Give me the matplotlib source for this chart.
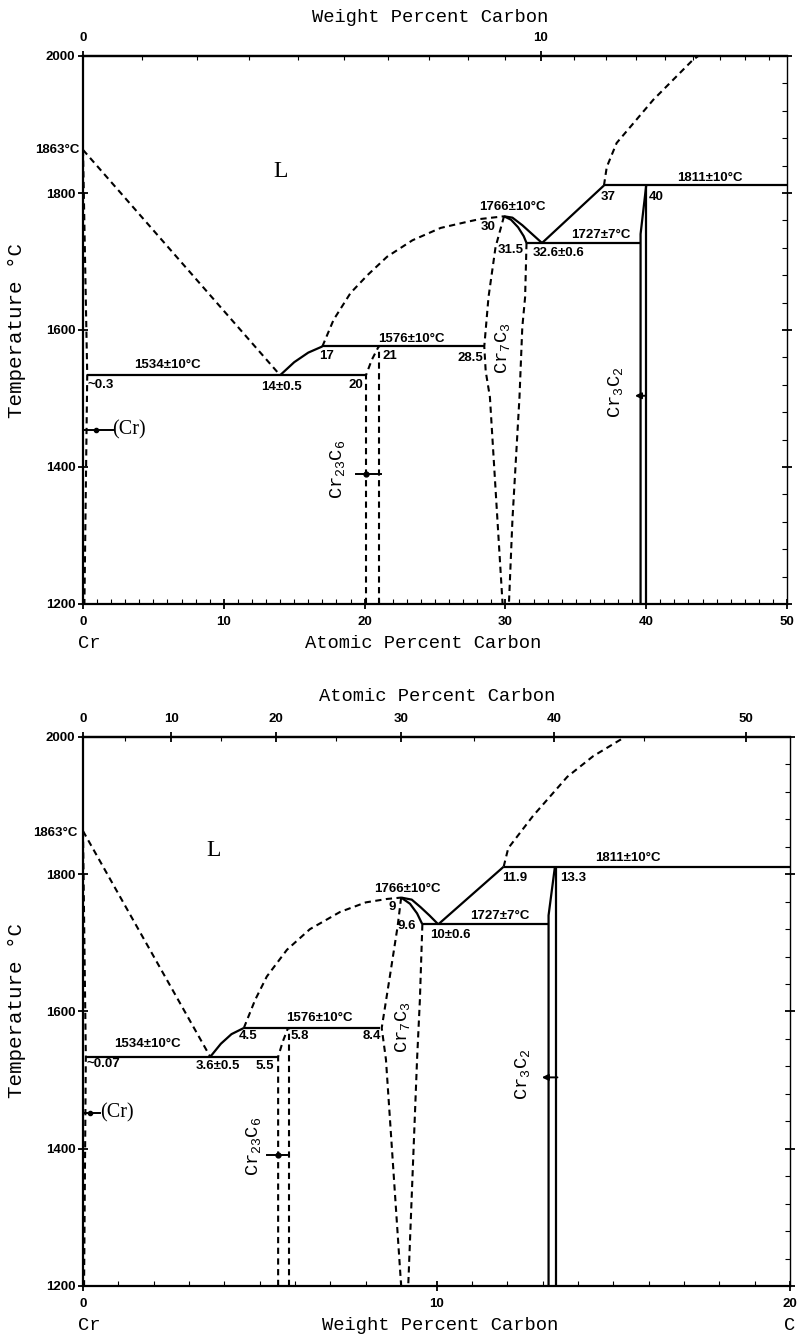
import numpy as np
import matplotlib
matplotlib.use("Agg")
import matplotlib.pyplot as plt
from matplotlib.ticker import MultipleLocator, FixedLocator

plt.rcParams["mathtext.default"] = "regular"
plt.rcParams["lines.scale_dashes"] = False

W, H = 799, 1337

# ================= DATA: top panel (x = atomic % C) =================
top_liq_left_x = [0, 14]
top_liq_left_t = [1863, 1534]
top_liq_23_x = [14, 15, 16, 17]
top_liq_23_t = [1534, 1553, 1567, 1576]
top_liq_mid_x = [17, 17.8, 19.0, 20.2, 21.6, 23.4, 25.4, 27.3, 28.2, 29.9]
top_liq_mid_t = [1576, 1615, 1654, 1680, 1707, 1731, 1749, 1758, 1762, 1766]
top_liq_73_x = [29.9, 30.5, 31.2, 31.9, 32.6]
top_liq_73_t = [1766, 1764, 1753, 1740, 1727]
top_sol_73_x = [29.9, 30.4, 30.9, 31.3, 31.5]
top_sol_73_t = [1766, 1761, 1750, 1737, 1727]
top_liq_32_x = [32.6, 37]
top_liq_32_t = [1727, 1811]
top_liq_hi_x = [37, 37.2, 37.9, 39.1, 40.5, 41.9, 43.3, 43.7]
top_liq_hi_t = [1811, 1838, 1873, 1902, 1936, 1965, 1994, 2000]
top_cr_sol_x = [0, 0.3, 0.1]
top_cr_sol_t = [1863, 1534, 1200]
top_c23_left_x = [20.1, 20.1, 20.5, 21.0]
top_c23_left_t = [1200, 1534, 1556, 1576]
top_c23_right_x = [21.0, 21.0]
top_c23_right_t = [1200, 1576]
top_c73_left_x = [29.9, 29.3, 28.8, 28.5, 28.6, 28.9, 29.8]
top_c73_left_t = [1766, 1721, 1648, 1576, 1540, 1502, 1200]
top_c73_right_x = [31.5, 31.4, 31.2, 31.0, 30.5, 30.25]
top_c73_right_t = [1727, 1648, 1604, 1502, 1323, 1200]
top_c32_left_x = [39.6, 39.6, 40.0]
top_c32_left_t = [1200, 1740, 1811]
top_c32_right_x = [40.0, 40.0]
top_c32_right_t = [1200, 1811]
top_iso_t = [1534, 1576, 1727, 1811]
top_iso_x0 = [0.3, 17, 31.5, 37]
top_iso_x1 = [20.1, 28.5, 39.6, 50]

# ================= DATA: bottom panel (x = weight % C) =================
bot_liq_left_x = [0, 3.6]
bot_liq_left_t = [1863, 1534]
bot_liq_23_x = [3.6, 3.9, 4.2, 4.55]
bot_liq_23_t = [1534, 1553, 1567, 1576]
bot_liq_mid_x = [4.55, 4.87, 5.2, 5.77, 6.42, 7.27, 8.0, 8.6, 9.0]
bot_liq_mid_t = [1576, 1617, 1651, 1690, 1720, 1745, 1759, 1764, 1766]
bot_liq_73_x = [9.0, 9.3, 9.55, 9.8, 10.05]
bot_liq_73_t = [1766, 1763, 1752, 1740, 1727]
bot_sol_73_x = [9.0, 9.25, 9.45, 9.6]
bot_sol_73_t = [1766, 1757, 1743, 1727]
bot_liq_32_x = [10.05, 11.9]
bot_liq_32_t = [1727, 1811]
bot_liq_hi_x = [11.9, 12.03, 12.73, 13.7, 14.43, 15.33]
bot_liq_hi_t = [1811, 1838, 1885, 1942, 1972, 2000]
bot_cr_sol_x = [0, 0.08, 0.03]
bot_cr_sol_t = [1863, 1534, 1200]
bot_c23_left_x = [5.52, 5.52, 5.65, 5.8]
bot_c23_left_t = [1200, 1534, 1556, 1576]
bot_c23_right_x = [5.84, 5.84]
bot_c23_right_t = [1200, 1576]
bot_c73_left_x = [9.0, 8.9, 8.68, 8.45, 8.57, 9.0]
bot_c73_left_t = [1766, 1724, 1651, 1576, 1530, 1200]
bot_c73_right_x = [9.6, 9.53, 9.45, 9.2]
bot_c73_right_t = [1727, 1617, 1530, 1200]
bot_c32_left_x = [13.17, 13.17, 13.35]
bot_c32_left_t = [1200, 1740, 1811]
bot_c32_right_x = [13.38, 13.38]
bot_c32_right_t = [1200, 1811]
bot_iso_t = [1534, 1576, 1727, 1811]
bot_iso_x0 = [0.07, 4.55, 9.6, 11.9]
bot_iso_x1 = [5.52, 8.4, 13.17, 20]

temp_ticks = [1200, 1400, 1600, 1800, 2000]
top_at_ticks = [0, 10, 20, 30, 40, 50]
top_wt_ticks = [0, 10]
bot_wt_ticks = [0, 10, 20]
bot_at_ticks = [0, 10, 20, 30, 40, 50]


def at2wt(a):
    a = np.asarray(a, dtype=float)
    with np.errstate(divide="ignore", invalid="ignore"):
        return 1200.0 * a / (12.0 * a + 52.0 * (100.0 - a))


def wt2at(w):
    w = np.asarray(w, dtype=float)
    with np.errstate(divide="ignore", invalid="ignore"):
        return 100.0 * (w / 12.0) / (w / 12.0 + (100.0 - w) / 52.0)


def fx(px):
    return px / W


def fy(py):
    return 1 - py / H


SOLID = dict(color="black", lw=1.6, solid_capstyle="butt")
DASH = dict(color="black", lw=1.5, linestyle="--", dashes=(4.5, 3.2), dash_capstyle="butt")
NUM = dict(fontsize=9.5, fontweight="bold", family="Liberation Sans")
MONO = "Liberation Mono"

fig = plt.figure(figsize=(W / 100, H / 100), dpi=100)
ax1 = fig.add_axes([fx(83), fy(604), (787 - 83) / W, (604 - 56) / H])
ax2 = fig.add_axes([fx(83), fy(1286), (790 - 83) / W, (1286 - 737) / H])


def style(ax, xmax, xticks, xminor):
    ax.set_xlim(0, xmax)
    ax.set_ylim(1200, 2000)
    ax.set_xticks(xticks)
    ax.set_yticks(temp_ticks)
    ax.xaxis.set_minor_locator(MultipleLocator(xminor))
    ax.yaxis.set_minor_locator(MultipleLocator(40))
    for s in ["left", "bottom", "top"]:
        ax.spines[s].set_linewidth(1.6)
    ax.spines["right"].set_linewidth(1.0)
    ax.tick_params(which="major", direction="inout", length=7, width=1.3,
                   left=True, right=True, bottom=True, top=False, labelsize=9.5, pad=2)
    ax.tick_params(which="minor", direction="in", length=3.5, width=0.8,
                   left=False, right=True, bottom=True, top=False)
    ax.tick_params(axis="x", which="major", pad=5)
    for lab in ax.get_xticklabels() + ax.get_yticklabels():
        lab.set_fontweight("bold")
        lab.set_family("Liberation Sans")


def secondary(ax, fwd, inv, ticks, minor):
    sec = ax.secondary_xaxis("top", functions=(fwd, inv))
    sec.set_xticks(ticks)
    sec.xaxis.set_minor_locator(FixedLocator(minor))
    sec.tick_params(which="major", direction="inout", length=7, width=1.3, labelsize=9.5, pad=5)
    sec.tick_params(which="minor", direction="in", length=3, width=0.8)
    sec.spines["top"].set_linewidth(1.6)
    for lab in sec.get_xticklabels():
        lab.set_fontweight("bold")
        lab.set_family("Liberation Sans")
    return sec


style(ax1, 50, top_at_ticks, 1)
style(ax2, 20, bot_wt_ticks, 1)
secondary(ax1, at2wt, wt2at, top_wt_ticks, list(range(1, 19)))
secondary(ax2, wt2at, at2wt, bot_at_ticks, [5, 15, 25, 35, 45])

# ---------------- top panel drawing ----------------
a = ax1
a.plot(top_liq_left_x, top_liq_left_t, **DASH)
a.plot(top_liq_23_x, top_liq_23_t, **SOLID)
a.plot(top_liq_mid_x, top_liq_mid_t, **DASH)
a.plot(top_liq_73_x, top_liq_73_t, **SOLID)
a.plot(top_sol_73_x, top_sol_73_t, **SOLID)
a.plot(top_liq_32_x, top_liq_32_t, **SOLID)
a.plot(top_liq_hi_x, top_liq_hi_t, **DASH)
a.plot(top_cr_sol_x, top_cr_sol_t, **DASH)
a.plot(top_c23_left_x, top_c23_left_t, **DASH)
a.plot(top_c23_right_x, top_c23_right_t, **DASH)
a.plot(top_c73_left_x, top_c73_left_t, **DASH)
a.plot(top_c73_right_x, top_c73_right_t, **DASH)
a.plot(top_c32_left_x, top_c32_left_t, **SOLID)
a.plot(top_c32_right_x, top_c32_right_t, **SOLID)
for t, x0, x1 in zip(top_iso_t, top_iso_x0, top_iso_x1):
    a.plot([x0, x1], [t, t], **SOLID)

a.text(6.0, 1549, "1534±10°C", ha="center", va="center", **NUM)
a.text(0.3, 1520, "~0.3", ha="left", va="center", **NUM)
a.text(14.06, 1517, "14±0.5", ha="center", va="center", **NUM)
a.text(19.4, 1520, "20", ha="center", va="center", **NUM)
a.text(17.3, 1562, "17", ha="center", va="center", **NUM)
a.text(21.8, 1562, "21", ha="center", va="center", **NUM)
a.text(23.3, 1587, "1576±10°C", ha="center", va="center", **NUM)
a.text(28.4, 1559, "28.5", ha="right", va="center", **NUM)
a.text(30.5, 1779, "1766±10°C", ha="center", va="center", **NUM)
a.text(28.8, 1750, "30", ha="center", va="center", **NUM)
a.text(30.4, 1717, "31.5", ha="center", va="center", **NUM)
a.text(33.8, 1712, "32.6±0.6", ha="center", va="center", **NUM)
a.text(36.8, 1739, "1727±7°C", ha="center", va="center", **NUM)
a.text(37.3, 1794, "37", ha="center", va="center", **NUM)
a.text(40.7, 1794, "40", ha="center", va="center", **NUM)
a.text(44.5, 1822, "1811±10°C", ha="center", va="center", **NUM)
a.text(14.0, 1831, "L", ha="center", va="center", fontsize=17, family="Liberation Serif")
a.text(2.1, 1454, "(Cr)", ha="left", va="center", fontsize=14.5, family="Liberation Serif")
a.plot([0, 2.1], [1454, 1454], color="black", lw=1.4)
a.plot([0.9], [1454], marker="o", ms=3, color="black")
a.text(18.1, 1396, "Cr$_{23}$C$_6$", rotation=90, ha="center", va="center", fontsize=13.5, family=MONO)
a.plot([19.4, 21.2], [1390, 1390], color="black", lw=1.4)
a.plot([20.1], [1390], marker="o", ms=3.5, color="black")
a.text(29.8, 1574, "Cr$_7$C$_3$", rotation=90, ha="center", va="center", fontsize=13.5, family=MONO)
a.text(37.8, 1509, "Cr$_3$C$_2$", rotation=90, ha="center", va="center", fontsize=13.5, family=MONO)
a.annotate("", xy=(39.0, 1504), xytext=(40.1, 1504),
           arrowprops=dict(arrowstyle="-|>", color="black", lw=1.4, mutation_scale=9))

# ---------------- bottom panel drawing ----------------
b = ax2
b.plot(bot_liq_left_x, bot_liq_left_t, **DASH)
b.plot(bot_liq_23_x, bot_liq_23_t, **SOLID)
b.plot(bot_liq_mid_x, bot_liq_mid_t, **DASH)
b.plot(bot_liq_73_x, bot_liq_73_t, **SOLID)
b.plot(bot_sol_73_x, bot_sol_73_t, **SOLID)
b.plot(bot_liq_32_x, bot_liq_32_t, **SOLID)
b.plot(bot_liq_hi_x, bot_liq_hi_t, **DASH)
b.plot(bot_cr_sol_x, bot_cr_sol_t, **DASH)
b.plot(bot_c23_left_x, bot_c23_left_t, **DASH)
b.plot(bot_c23_right_x, bot_c23_right_t, **DASH)
b.plot(bot_c73_left_x, bot_c73_left_t, **DASH)
b.plot(bot_c73_right_x, bot_c73_right_t, **DASH)
b.plot(bot_c32_left_x, bot_c32_left_t, **SOLID)
b.plot(bot_c32_right_x, bot_c32_right_t, **SOLID)
for t, x0, x1 in zip(bot_iso_t, bot_iso_x0, bot_iso_x1):
    b.plot([x0, x1], [t, t], **SOLID)

b.text(1.81, 1552, "1534±10°C", ha="center", va="center", **NUM)
b.text(0.1, 1523, "~0.07", ha="left", va="center", **NUM)
b.text(3.82, 1521, "3.6±0.5", ha="center", va="center", **NUM)
b.text(5.15, 1521, "5.5", ha="center", va="center", **NUM)
b.text(4.67, 1564, "4.5", ha="center", va="center", **NUM)
b.text(6.14, 1564, "5.8", ha="center", va="center", **NUM)
b.text(6.7, 1590, "1576±10°C", ha="center", va="center", **NUM)
b.text(8.18, 1564, "8.4", ha="center", va="center", **NUM)
b.text(9.17, 1778, "1766±10°C", ha="center", va="center", **NUM)
b.text(8.74, 1752, "9", ha="center", va="center", **NUM)
b.text(9.17, 1724, "9.6", ha="center", va="center", **NUM)
b.text(10.38, 1711, "10±0.6", ha="center", va="center", **NUM)
b.text(11.8, 1739, "1727±7°C", ha="center", va="center", **NUM)
b.text(12.22, 1794, "11.9", ha="center", va="center", **NUM)
b.text(13.86, 1794, "13.3", ha="center", va="center", **NUM)
b.text(15.42, 1823, "1811±10°C", ha="center", va="center", **NUM)
b.text(3.68, 1834, "L", ha="center", va="center", fontsize=17, family="Liberation Serif")
b.text(0.48, 1452, "(Cr)", ha="left", va="center", fontsize=14.5, family="Liberation Serif")
b.plot([0, 0.48], [1452, 1452], color="black", lw=1.4)
b.plot([0.2], [1452], marker="o", ms=3, color="black")
b.text(4.81, 1404, "Cr$_{23}$C$_6$", rotation=90, ha="center", va="center", fontsize=13.5, family=MONO)
b.plot([5.2, 5.77], [1391, 1391], color="black", lw=1.4)
b.plot([5.52], [1391], marker="o", ms=3.5, color="black")
b.text(9.05, 1577, "Cr$_7$C$_3$", rotation=90, ha="center", va="center", fontsize=13.5, family=MONO)
b.text(12.42, 1508, "Cr$_3$C$_2$", rotation=90, ha="center", va="center", fontsize=13.5, family=MONO)
b.annotate("", xy=(12.9, 1504), xytext=(13.5, 1504),
           arrowprops=dict(arrowstyle="-|>", color="black", lw=1.4, mutation_scale=9))

# ---------------- figure-level texts ----------------
TITLE = dict(fontsize=13.5, family=MONO)
fig.text(fx(430), fy(17), "Weight Percent Carbon", ha="center", va="center", **TITLE)
fig.text(fx(423), fy(643), "Atomic Percent Carbon", ha="center", va="center", **TITLE)
fig.text(fx(89), fy(643), "Cr", ha="center", va="center", **TITLE)
fig.text(fx(17), fy(330), "Temperature °C", rotation=90, ha="center", va="center", fontsize=15, family=MONO)
fig.text(fx(80), fy(150), "1863°C", ha="right", va="center", **NUM)

fig.text(fx(437), fy(697), "Atomic Percent Carbon", ha="center", va="center", **TITLE)
fig.text(fx(440), fy(1326), "Weight Percent Carbon", ha="center", va="center", **TITLE)
fig.text(fx(89), fy(1326), "Cr", ha="center", va="center", **TITLE)
fig.text(fx(790), fy(1326), "C", ha="center", va="center", **TITLE)
fig.text(fx(17), fy(1010), "Temperature °C", rotation=90, ha="center", va="center", fontsize=15, family=MONO)
fig.text(fx(78), fy(833), "1863°C", ha="right", va="center", **NUM)

fig.savefig("out.png", dpi=100)
